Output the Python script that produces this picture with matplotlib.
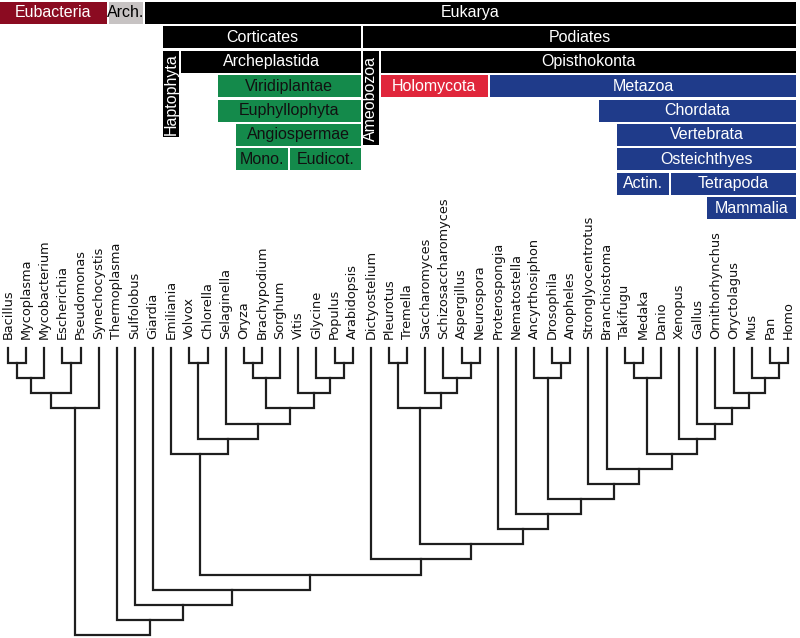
"""Cladogram of sequenced genomes with clade bars drawn above the leaves."""

import matplotlib
matplotlib.use('Agg')
from matplotlib import pyplot as plt
from matplotlib.patches import Rectangle

# tree topology as nested pairs, leaves in drawing order
bacteria = (((('Bacillus', 'Mycoplasma'), 'Mycobacterium'), ('Escherichia', 'Pseudomonas')), 'Synechocystis')
corticates = ('Emiliania', (('Volvox', 'Chlorella'),
                            ('Selaginella', ((('Oryza', 'Brachypodium'), 'Sorghum'),
                                             ('Vitis', ('Glycine', ('Populus', 'Arabidopsis')))))))
holomycota = (('Pleurotus', 'Tremella'),
              ('Saccharomyces', ('Schizosaccharomyces', ('Aspergillus', 'Neurospora'))))
tetrapoda = ('Xenopus', ('Gallus', ('Ornithorhynchus', ('Oryctolagus', ('Mus', ('Pan', 'Homo'))))))
metazoa = ('Proterospongia', ('Nematostella', (('Ancyrthosiphon', ('Drosophila', 'Anopheles')),
                                               ('Stronglyocentrotus', ('Branchiostoma',
                                                                       ((('Takifugu', 'Medaka'), 'Danio'), tetrapoda))))))
podiates = ('Dictyostelium', (holomycota, metazoa))
tree = (bacteria, ('Thermoplasma', ('Sulfolobus', ('Giardia', (corticates, podiates)))))

# clade bars: name, first leaf, last leaf, row, rows spanned
clade_names = ['Eubacteria', 'Arch.', 'Eukarya', 'Corticates', 'Podiates', 'Haptophyta',
               'Archeplastida', 'Ameobozoa', 'Opisthokonta', 'Viridiplantae', 'Holomycota',
               'Metazoa', 'Euphyllophyta', 'Chordata', 'Angiospermae', 'Vertebrata', 'Mono.',
               'Eudicot.', 'Osteichthyes', 'Actin.', 'Tetrapoda', 'Mammalia']
clade_first = ['Bacillus', 'Thermoplasma', 'Giardia', 'Emiliania', 'Dictyostelium', 'Emiliania',
               'Volvox', 'Dictyostelium', 'Pleurotus', 'Selaginella', 'Pleurotus',
               'Proterospongia', 'Selaginella', 'Branchiostoma', 'Oryza', 'Takifugu', 'Oryza',
               'Vitis', 'Takifugu', 'Takifugu', 'Xenopus', 'Ornithorhynchus']
clade_last = ['Synechocystis', 'Sulfolobus', 'Homo', 'Arabidopsis', 'Homo', 'Emiliania',
              'Arabidopsis', 'Dictyostelium', 'Homo', 'Arabidopsis', 'Neurospora',
              'Homo', 'Arabidopsis', 'Homo', 'Arabidopsis', 'Homo', 'Sorghum',
              'Arabidopsis', 'Homo', 'Danio', 'Homo', 'Homo']
clade_row = [0, 0, 0, 1, 1, 2, 2, 2, 2, 3, 3, 3, 4, 4, 5, 5, 6, 6, 6, 7, 7, 8]
clade_rows = [1, 1, 1, 1, 1, 3.65, 1, 3.98, 1, 1, 1, 1, 1, 1, 1, 1, 1, 1, 1, 1, 1, 1]
clade_group = ['eubact', 'arch', 'black', 'black', 'black', 'black', 'black', 'black', 'black',
               'plant', 'fungi', 'animal', 'plant', 'animal', 'plant', 'animal', 'plant',
               'plant', 'animal', 'animal', 'animal', 'animal']

fill = {'eubact': '#8b0b21', 'arch': '#c7c3c3', 'black': '#000000',
        'plant': '#148a4b', 'fungi': '#e0263b', 'animal': '#1f3b8a'}
ink = {'eubact': 'white', 'arch': 'black', 'black': 'white',
       'plant': '#111111', 'fungi': 'white', 'animal': 'white'}

leaves = []


def layout(node, ax):
    """Draw the subtree, return (x, height) of its node"""
    if isinstance(node, str):
        leaves.append(node)
        return len(leaves) - 1, 0
    x1, h1 = layout(node[0], ax)
    x2, h2 = layout(node[1], ax)
    h = max(h1, h2) + 1
    ax.plot([x1, x1, x2, x2], [h1, h, h, h2], color='#1e1e1e', lw=1.6,
            solid_joinstyle='miter', solid_capstyle='projecting')
    return (x1 + x2) / 2, h


W, H = 800, 638
fig = plt.figure(figsize=(W / 100, H / 100), dpi=100)
xlim = (-8 / 18.14, (W - 8) / 18.14)

# tree part
ax = fig.add_axes([0, 0, 1, 410 / H])
ax.axis('off')
layout(tree, ax)
ax.set_xlim(*xlim)
ax.set_ylim(19.2, -7.95)
for i, name in enumerate(leaves):
    ax.text(i, -0.62, name, rotation=90, ha='center', va='bottom',
            fontsize=9.3, family='DejaVu Sans', color='#111111')

# clade bars
axt = fig.add_axes([0, 1 - 228 / H, 1, 228 / H])
axt.axis('off')
axt.set_xlim(*xlim)
axt.set_ylim(9.262, -0.082)
gap = 0.055
for name, a, b, row, span, grp in zip(clade_names, clade_first, clade_last,
                                      clade_row, clade_rows, clade_group):
    x0 = leaves.index(a) - 0.5 + gap
    x1 = leaves.index(b) + 0.5 - gap
    h = span - 0.1
    axt.add_patch(Rectangle((x0, row), x1 - x0, h, facecolor=fill[grp], edgecolor='none'))
    rot = 90 if span > 1 else 0
    axt.text((x0 + x1) / 2, row + h / 2, name, rotation=rot, ha='center', va='center',
             fontsize=11.5, family='Liberation Sans', color=ink[grp])

fig.savefig('out.png', dpi=100, facecolor='white')
